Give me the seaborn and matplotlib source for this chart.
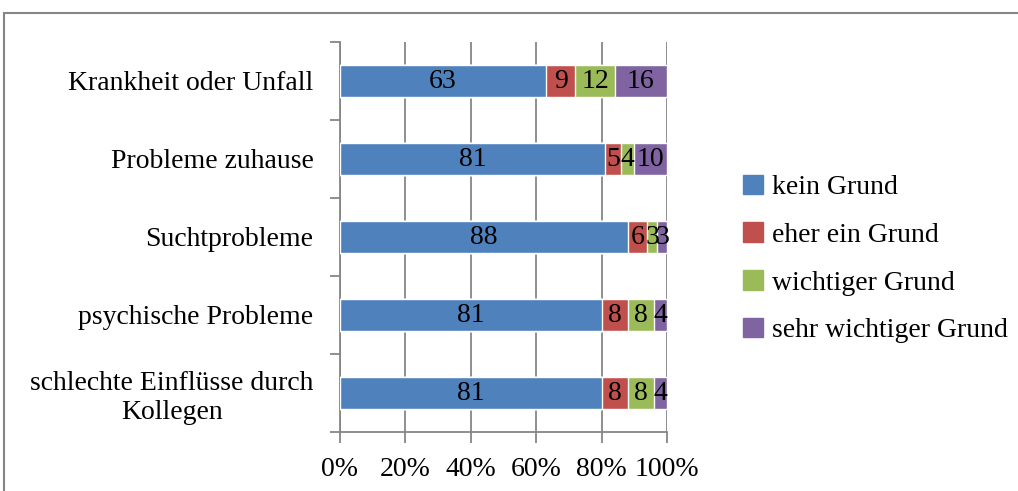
import matplotlib
matplotlib.use("Agg")
import matplotlib.pyplot as plt
import matplotlib.patches as mpatches
import numpy as np
import pandas as pd
import seaborn as sns

categories = [
    "Krankheit oder Unfall",
    "Probleme zuhause",
    "Suchtprobleme",
    "psychische Probleme",
    "schlechte Einflüsse durch\nKollegen",
]
series_names = ["kein Grund", "eher ein Grund", "wichtiger Grund", "sehr wichtiger Grund"]
kein_grund = [63, 81, 88, 81, 81]
eher_ein_grund = [9, 5, 6, 8, 8]
wichtiger_grund = [12, 4, 3, 8, 8]
sehr_wichtiger_grund = [16, 10, 3, 4, 4]
x_ticklabels = ["0%", "20%", "40%", "60%", "80%", "100%"]

colors = ["#4F81BD", "#C0504D", "#9BBB59", "#8064A2"]
grid_color = "#868686"
font = "Liberation Serif"
fs = 20

sns.set_theme(style="white")
plt.rcParams["font.family"] = [font, "DejaVu Serif"]
plt.rcParams["text.color"] = "black"
plt.rcParams["xtick.color"] = "black"
plt.rcParams["ytick.color"] = "black"

values = np.array([kein_grund, eher_ein_grund, wichtiger_grund, sehr_wichtiger_grund], dtype=float)
shares = values / values.sum(axis=0) * 100.0
cum = np.cumsum(shares, axis=0)

fig = plt.figure(figsize=(10.18, 4.91), dpi=100)
ax = fig.add_axes([340 / 1018, 1 - 432 / 491, 327 / 1018, 390 / 491])

# stacked bars: draw cumulative totals from the outermost segment inward
for i in range(len(series_names) - 1, -1, -1):
    df = pd.DataFrame({"cat": categories, "val": cum[i]})
    sns.barplot(data=df, x="val", y="cat", orient="h", color=colors[i],
                saturation=1, width=0.41, ax=ax, zorder=3)

# segment value labels
for j in range(len(categories)):
    left = 0.0
    for i in range(len(series_names)):
        w = shares[i, j]
        ax.text(left + w / 2, j, f"{int(values[i, j])}", ha="center", va="center",
                fontsize=fs, color="black", zorder=5)
        left += w

ax.set_xlim(0, 100)
ax.set_ylim(len(categories) - 0.5, -0.5)
ax.set_xlabel("")
ax.set_ylabel("")

ax.set_xticks([0, 20, 40, 60, 80, 100])
ax.set_xticklabels(x_ticklabels, fontsize=fs, color="black")
ax.xaxis.grid(True, color=grid_color, linewidth=1.3, zorder=0)
ax.set_axisbelow(True)

ax.set_yticks(range(len(categories)))
ax.set_yticklabels(categories, fontsize=fs, multialignment="center", color="black")
ax.set_yticks(np.arange(-0.5, len(categories), 1.0), minor=True)
ax.tick_params(axis="y", which="major", length=0, pad=19)
ax.tick_params(axis="y", which="minor", length=7, width=1.3, color=grid_color, left=True)
ax.tick_params(axis="x", which="major", length=8, width=1.3, color=grid_color,
               bottom=True, pad=10)

for side in ["top", "right"]:
    ax.spines[side].set_visible(False)
for side in ["left", "bottom"]:
    ax.spines[side].set_color(grid_color)
    ax.spines[side].set_linewidth(1.3)

handles = [mpatches.Patch(color=c, label=n) for c, n in zip(colors, series_names)]
leg = fig.legend(handles=handles, loc="center left", bbox_to_anchor=(732 / 1018, 1 - 259 / 491),
                 frameon=False, fontsize=fs, handlelength=0.7, handleheight=0.7,
                 handletextpad=0.35, labelspacing=0.8, borderaxespad=0)
for t in leg.get_texts():
    t.set_color("black")

# outer chart frame
frame = mpatches.Rectangle((4 / 1018, -0.1), 1.2, 1 - 13 / 491 + 0.1,
                           transform=fig.transFigure, fill=False,
                           edgecolor=grid_color, linewidth=1.5)
fig.patches.append(frame)

fig.savefig("out.png", dpi=100)
